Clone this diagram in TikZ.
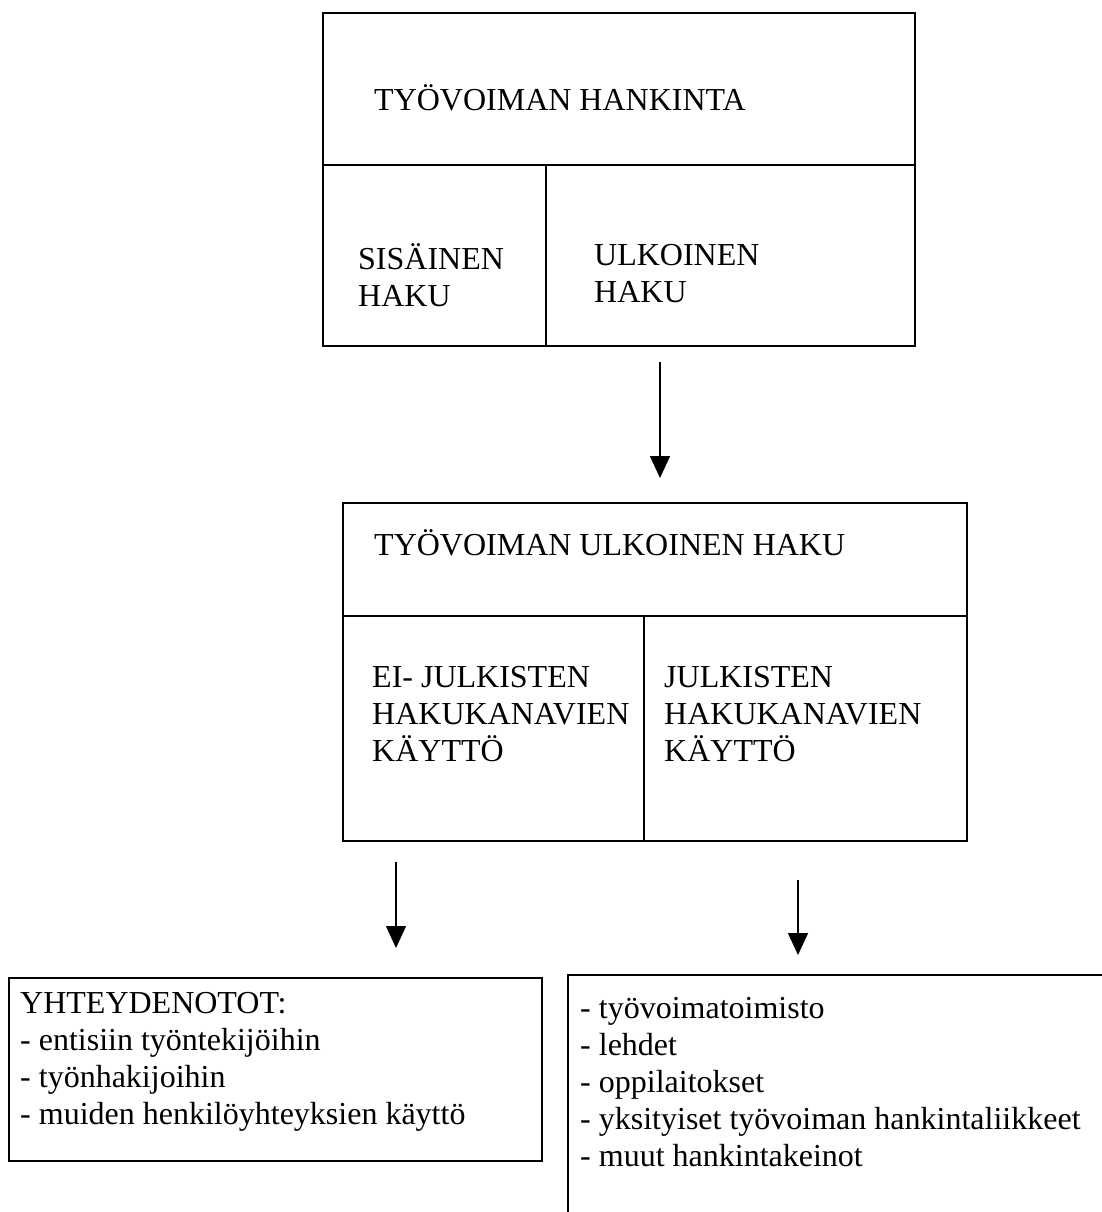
\documentclass[tikz,border=0pt]{standalone}
\usepackage{fontspec}
\setmainfont{Liberation Serif}
\usetikzlibrary{arrows.meta}
\begin{document}
\begin{tikzpicture}[x=1pt,y=-1pt,
  boxline/.style={draw, line width=1.8pt},
  frame/.style={draw, line width=1.8pt, inner sep=0pt, anchor=north west},
  lbl/.style={anchor=base west, inner sep=0pt, font=\fontsize{32}{37}\selectfont, align=left},
  arr/.style={line width=1.5pt, -{Triangle[width=20pt,length=22pt]}}]
\useasboundingbox (0,0) rectangle (1102,1212);
% top box
\node[frame, minimum width=592pt, minimum height=333pt] (top) at (322,12) {};
\draw[boxline] (322,165) -- (914,165);
\draw[boxline] (546,165) -- (546,345);
\node[lbl] (t1) at (374,111) {TYÖVOIMAN HANKINTA};
\node[lbl] (sis) at (358,306) {SISÄINEN\\HAKU};
\node[lbl] (ulk) at (594,302) {ULKOINEN\\HAKU};
% middle box
\node[frame, minimum width=624pt, minimum height=338pt] (mid) at (342,502) {};
\draw[boxline] (342,616) -- (966,616);
\draw[boxline] (644,616) -- (644,840);
\node[lbl] (t2) at (374,555) {TYÖVOIMAN ULKOINEN HAKU};
\node[lbl] (ei) at (372,761) {EI- JULKISTEN\\HAKUKANAVIEN\\KÄYTTÖ};
\node[lbl] (jul) at (664,761) {JULKISTEN\\HAKUKANAVIEN\\KÄYTTÖ};
% arrows
\coordinate (a1s) at (660,362); \coordinate (a1e) at (660,478);
\coordinate (a2s) at (396,862); \coordinate (a2e) at (396,948);
\coordinate (a3s) at (798,880); \coordinate (a3e) at (798,955);
\draw[arr] (a1s) -- (a1e);
\draw[arr] (a2s) -- (a2e);
\draw[arr] (a3s) -- (a3e);
% bottom left box
\node[frame, minimum width=533pt, minimum height=183pt] (bl) at (8,977) {};
\node[lbl] (yht) at (20,1124) {YHTEYDENOTOT:\\- entisiin työntekijöihin\\- työnhakijoihin\\- muiden henkilöyhteyksien käyttö};
% bottom right box (open)
\draw[boxline] (1102,975) -- (568,975) -- (568,1212);
\node[lbl] (lst) at (580,1166) {- työvoimatoimisto\\- lehdet\\- oppilaitokset\\- yksityiset työvoiman hankintaliikkeet\\- muut hankintakeinot};
\end{tikzpicture}
\end{document}
